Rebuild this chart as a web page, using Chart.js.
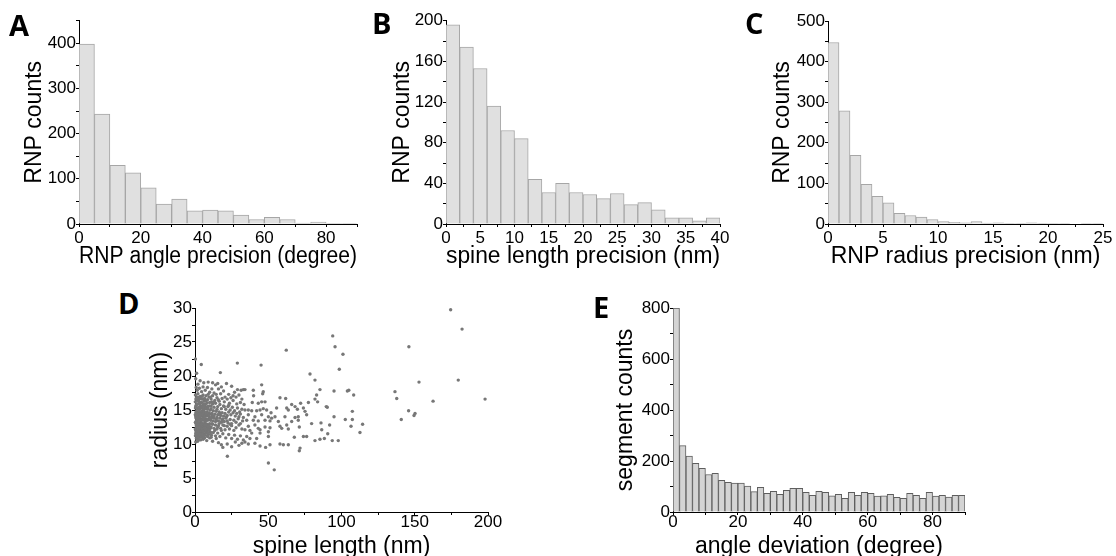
<!DOCTYPE html>
<html>
<head>
<meta charset="utf-8">
<script src="https://cdn.jsdelivr.net/npm/chart.js@4.4.1/dist/chart.umd.min.js"></script>
<style>
  html, body { margin: 0; padding: 0; background: #fff; }
  #fig { position: relative; width: 1116px; height: 556px; overflow: hidden; }
  #fig canvas { position: absolute; }
  .letter { position: absolute; font-family: "Open Sans", sans-serif; font-weight: 700; font-size: 29px; line-height: 29px; color: #000; }
</style>
</head>
<body>
<div id="fig">
  <canvas id="chartA" width="372" height="270" style="left:0px;top:0px"></canvas>
  <canvas id="chartB" width="370" height="270" style="left:370px;top:0px"></canvas>
  <canvas id="chartC" width="371" height="270" style="left:745px;top:0px"></canvas>
  <canvas id="chartD" width="370" height="290" style="left:140px;top:280px"></canvas>
  <canvas id="chartE" width="400" height="290" style="left:590px;top:280px"></canvas>
  <div class="letter" style="left:9px;top:10px">A</div>
  <div class="letter" style="left:372px;top:8px">B</div>
  <div class="letter" style="left:745px;top:8px">C</div>
  <div class="letter" style="left:118px;top:288px">D</div>
  <div class="letter" style="left:593px;top:292px">E</div>
</div>
<script>
// --- data ---
// A: RNP angle precision, 5 degree bins
const angleBinStart = [0, 5, 10, 15, 20, 25, 30, 35, 40, 45, 50, 55, 60, 65, 70, 75, 80, 85];
const angleCounts = [398, 243, 130, 113, 80, 44, 55, 29, 31, 29, 20, 10, 15, 10, 2, 4, 1, 1];

// B: spine length precision, 2 nm bins
const spineBinStart = [0, 2, 4, 6, 8, 10, 12, 14, 16, 18, 20, 22, 24, 26, 28, 30, 32, 34, 36, 38];
const spineCounts = [196, 174, 153, 116, 92, 84, 44, 31, 40, 31, 29, 25, 30, 19, 21, 14, 6, 6, 3, 6];

// C: RNP radius precision, 1 nm bins
const radiusBinStart = [0, 1, 2, 3, 4, 5, 6, 7, 8, 9, 10, 11, 12, 13, 14, 15, 16, 17, 18, 19, 20, 21, 22, 23, 24];
const radiusCounts = [447, 279, 169, 98, 68, 52, 26, 21, 17, 11, 6, 4, 3, 6, 2, 3, 1, 1, 3, 1, 1, 1, 0, 1, 1];

// E: angle deviation, 2 degree bins
const deviationBinStart = [0, 2, 4, 6, 8, 10, 12, 14, 16, 18, 20, 22, 24, 26, 28, 30, 32, 34, 36, 38, 40, 42, 44,
  46, 48, 50, 52, 54, 56, 58, 60, 62, 64, 66, 68, 70, 72, 74, 76, 78, 80, 82, 84, 86, 88];
const deviationCounts = [800, 260, 219, 191, 171, 147, 152, 124, 116, 113, 113, 102, 80, 97, 73, 81, 69, 85, 93, 93,
  77, 65, 81, 77, 63, 69, 54, 77, 65, 77, 73, 62, 63, 69, 58, 54, 73, 65, 54, 77, 62, 65, 59, 65, 65];

// D: [spine length (nm), radius (nm)]
const spineRadius = [
  // dense cluster near the axis
  [0.3,22.5],[4.3,21.7],[28.9,21.9],[17.3,20.5],[1.1,20.4],[22.1,8.2],
  [0.5,19.6],[2,18.8],[3.5,19.3],[6,19.0],[9,19.1],[12,19.0],[14,18.7],[15.5,18.9],[18,18.4],[21.5,18.9],
  [25,18.5],[27,17.6],[29,18.0],[31.5,17.9],[33,18.0],
  [0.8,18.3],[1.5,17.9],[3,18.2],[4.5,17.7],[5.5,18.4],[7,17.9],[8.5,18.3],[10,17.6],[11.5,18.1],[13,17.5],
  [16,18.1],[17.5,17.4],[19.5,17.8],[20.5,16.9],[23,17.3],[24.5,16.8],[26,17.1],[28,16.9],[30,17.2],[32,16.6],
  [0.3,17.2],[1,16.8],[2,17.4],[2.5,16.5],[3.5,17.0],[4.5,16.6],[5.5,17.2],[6.5,16.7],[7.5,17.1],[8.5,16.5],
  [9.5,16.9],[11,16.6],[12,17.1],[13.5,16.4],[15,16.8],[16.5,16.3],[18.5,16.7],[20,16.2],[22,16.6],[23.5,16.0],
  [26,16.4],[28.5,15.9],[31,16.1],[33.5,15.8],
  [0.2,16.2],[0.8,15.7],[1.5,16.4],[2,15.9],[3,16.2],[3.8,15.6],[4.5,16.1],[5.5,15.7],[6.3,16.3],[7,15.8],
  [8,16.0],[9,15.5],[10,16.1],[11,15.6],[12,15.9],[13,15.4],[14,16.0],[15.5,15.5],[17,15.8],[18,15.2],
  [19.5,15.6],[21,15.1],[22.5,15.5],[24,15.0],[25.5,15.4],[27,14.9],[29,15.3],[30.5,14.7],[32,15.1],
  [0.3,15.3],[1,14.8],[1.7,15.2],[2.3,14.6],[3,15.1],[3.7,14.7],[4.3,15.3],[5,14.6],[5.8,15.0],[6.5,14.5],
  [7.3,15.2],[8,14.7],[8.8,15.1],[9.6,14.6],[10.5,15.0],[11.5,14.5],[12.5,14.9],[13.5,14.4],[14.5,14.8],
  [15.5,14.3],[16.5,14.7],[17.5,14.2],[18.5,14.6],[19.5,14.1],[20.5,14.5],[22,14.2],[23,14.7],[24.5,14.3],
  [26,14.6],[27.5,14.1],[28.5,14.5],[30,14.0],[31,14.4],[33,13.9],
  [0.2,14.3],[0.8,13.8],[1.4,14.2],[2,13.6],[2.7,14.1],[3.3,13.7],[4,14.3],[4.7,13.6],[5.4,14.0],[6,13.5],
  [6.8,14.2],[7.5,13.7],[8.2,14.1],[9,13.6],[9.8,14.0],[10.6,13.5],[11.4,13.9],[12.2,13.4],[13,13.8],[14,13.3],
  [15,13.9],[16,13.4],[17,13.8],[18,13.2],[19,13.7],[20,13.3],[21,13.8],[22.5,13.1],[24,13.6],[25,13.0],
  [26.5,13.5],[28,13.2],[29.5,13.7],[31,13.0],[32.5,13.4],
  [0.3,13.2],[0.9,12.7],[1.5,13.3],[2.1,12.8],[2.8,13.1],[3.5,12.6],[4.2,13.2],[4.9,12.7],[5.6,13.0],[6.3,12.5],
  [7,13.1],[7.8,12.6],[8.5,12.9],[9.3,12.4],[10,13.0],[11,12.5],[12,12.9],[13,12.3],[14,12.8],[15,12.2],
  [16,12.7],[17.5,12.3],[19,12.8],[20.5,12.1],[22,12.6],[23.5,12.2],[25,12.7],[26.5,12.0],[28,12.4],[30,12.8],[32,12.2],
  [0.2,12.2],[0.8,11.7],[1.3,12.3],[1.9,11.8],[2.5,12.1],[3.2,11.6],[3.9,12.2],[4.6,11.7],[5.3,12.0],[6,11.5],
  [6.8,12.1],[7.6,11.6],[8.4,11.9],[9.2,11.4],[10.2,11.8],[11.2,11.3],[12.5,11.7],[14,11.2],[15.5,11.6],[17,11.1],
  [19,11.5],[21,10.9],[23,11.4],[25,10.8],[27,11.3],[29,10.7],[31,11.2],[33,10.6],
  [0.3,11.2],[1,10.8],[1.6,11.3],[2.3,10.7],[3,11.0],[3.8,10.6],[4.6,11.1],[5.5,10.7],[6.5,10.9],[8,10.5],
  [10,10.9],[12,10.4],[14.5,10.8],[16,10.2],[18,9.9],[19,9.5],[22,10.0],[25,9.6],[27.5,10.3],[30,9.8],[32,10.1],
  [0.5,10.3],[1.8,10.4],
  // extra points filling the densest core
  [0.6,16.6],[1.8,16.9],[3.2,16.7],[4.8,17.0],[6,16.5],[7.8,16.4],[9,17.3],[10.5,16.9],
  [0.5,15.5],[1.2,15.9],[2.5,15.4],[3.4,15.9],[4.9,15.5],[6,15.9],[6.8,15.4],[8.4,15.5],[9.8,15.6],[11.5,16.2],
  [0.6,14.6],[1.4,14.5],[2.6,15.0],[3.4,14.4],[4.6,14.8],[5.4,15.2],[6.2,14.8],[7.7,14.4],[9.2,14.3],[10.2,14.4],[11,15.2],
  [0.5,14.0],[1.1,13.5],[1.7,13.9],[2.4,14.4],[3,13.5],[3.7,14.0],[4.4,13.5],[5.1,14.3],[5.8,13.7],[6.5,14.0],
  [7.2,13.4],[8.6,13.5],[9.4,14.3],[10.3,13.7],[11.8,14.2],
  [0.6,13.0],[1.2,12.5],[1.8,13.0],[2.5,12.5],[3.1,12.9],[3.8,12.4],[4.5,12.9],[5.2,12.4],[6,12.9],[6.6,12.7],
  [7.4,12.8],[8.1,12.3],[8.9,12.7],[9.7,12.7],[10.5,12.3],[11.5,13.0],
  [0.5,12.0],[1.1,12.5],[1.6,11.9],[2.2,12.4],[2.9,11.8],[3.6,12.4],[4.3,11.9],[5,12.2],[5.7,11.8],[6.4,12.3],
  [7.2,11.9],[8,12.2],[8.8,11.6],[9.7,12.1],[10.7,11.7],
  [0.5,11.5],[1.3,11.1],[2,11.5],[2.7,11.3],[3.4,11.4],[4.2,11.0],[5,11.4],[5.9,11.1],[7,11.3],[8.5,11.1],[11,11.0],
  [13,14.1],[15,15.1],[17,14.5],[14.5,13.6],[16.5,13.0],[18.5,13.5],[20,12.7],[21.5,14.0],[13.5,12.0],[15.5,12.5],
  [18,12.0],[22,13.4],[24,12.9],[20,15.5],[23,15.7],[16,16.5],[12.5,16.1],[14.5,17.3],
  // 34-90 nm
  [62.3,23.8],[45.1,21.6],[78.5,20.3],[81.9,19.4],[34.1,18.0],[39.8,17.9],[45.5,18.7],[46.6,17.7],[46.2,17.4],
  [40,17.1],[58,16.8],[61.9,16.7],[85.3,18.0],[83,17.2],[81.9,16.6],[83.7,16.2],[39.1,16.1],[43.2,16.0],
  [45.5,16.2],[47.8,16.2],[77.4,16.1],[55.7,15.3],[62.6,15.3],[66,15.8],[68.3,15.5],[69.9,15.1],[72.1,16],
  [74,15.3],[34.1,15.0],[36.4,15.0],[38.7,14.9],[42.1,14.9],[44.4,15.0],[46.6,15.2],[48.9,15.0],[51.9,14.6],
  [54.6,14.0],[61.4,14.0],[63.7,15.0],[68.3,13.9],[70.5,14.0],[75.1,14.8],[76.2,14.3],[36.4,14.3],[40.9,14.0],
  [45.5,14.3],[50.1,14.0],[52.3,13.8],[35.3,13.5],[39.8,13.5],[43.2,13.4],[47.8,13.5],[51.2,13.4],[56.9,13.3],
  [58,12.6],[62.6,12.8],[66,13.3],[70.5,13.5],[71.2,12.5],[79.6,13.0],[86,13.1],[36.4,12.6],[40.9,12.8],
  [43.2,12.3],[47.8,12.5],[51.2,12.4],[34.1,12.1],[37.5,12.0],[38.7,11.6],[44.4,12.1],[44.4,11.6],[50.1,11.8],
  [59.2,12.3],[63.7,12.2],[86.5,12.1],[35.3,11.1],[37.5,10.8],[42.1,10.8],[50.1,11.1],[67.8,11.0],[74,11.1],
  [76.2,11.1],[81.9,10.5],[85.3,10.7],[88.3,10.8],[34.1,10.3],[36.4,10.0],[40.9,10.1],[44.4,9.7],[48.2,9.5],
  [51.2,9.9],[58,10.0],[60.3,9.9],[63.7,9.9],[71.7,9.4],[71.2,9.0],[50.1,7.2],[54.1,6.2],
  // beyond 90 nm
  [174.5,29.75],[182.3,26.9],[146,24.3],[94,25.9],[95.6,24.3],[101,23.2],[98.5,21.0],[179.7,19.4],[152.9,19.1],
  [105,17.9],[104,17.8],[108.3,17.2],[136.5,17.7],[137.7,16.7],[198,16.6],[162.5,16.3],[94.9,17.8],[145.8,14.9],
  [150.2,14.5],[149.5,14.2],[140.8,13.6],[107.4,14.8],[107.4,13.6],[106.5,12.6],[114.4,12.9],[112.6,11.7],
  [102.6,13.6],[94.9,14.0],[97.8,10.5],[93.7,10.5],[90.6,11.5],[91.9,12.8],[89.6,15.5],[90.3,15.4]
];

Chart.defaults.font.family = '"Liberation Sans", Arial, sans-serif';
Chart.defaults.color = '#000';
Chart.defaults.animation = false;
Chart.defaults.plugins.legend.display = false;
Chart.defaults.plugins.tooltip.enabled = false;

function bins(starts, counts, width) {
  return starts.map((s, i) => ({ x: s + width / 2, y: counts[i] }));
}

function labelEvery(n) {
  return v => (Math.abs(v / n - Math.round(v / n)) < 1e-6 ? v : '');
}

function xAxis(min, max, step, major, title, height, tickPad, titlePad) {
  return {
    type: 'linear', min: min, max: max, offset: false,
    afterFit: s => { s.height = height; },
    grid: { drawOnChartArea: false, offset: false, tickLength: 3, tickColor: '#000' },
    border: { color: '#000' },
    ticks: { stepSize: step, autoSkip: false, maxRotation: 0, padding: tickPad, font: { size: 17 }, callback: labelEvery(major) },
    title: { display: true, text: title, font: { size: 23 }, padding: { top: 0, bottom: titlePad } }
  };
}

function yAxis(max, step, major, title, width, titlePad) {
  return {
    type: 'linear', min: 0, max: max, position: 'left',
    afterFit: s => { s.width = width; },
    grid: { drawOnChartArea: false, tickLength: 3, tickColor: '#000' },
    border: { color: '#000' },
    ticks: { stepSize: step, autoSkip: false, padding: 0, font: { size: 17 }, callback: labelEvery(major) },
    title: { display: true, text: title, font: { size: 23 }, padding: { top: titlePad, bottom: 0 } }
  };
}

function histogram(id, data, fill, edge, padding, x, y) {
  return new Chart(document.getElementById(id), {
    type: 'bar',
    data: {
      datasets: [{
        data: data,
        backgroundColor: fill,
        borderColor: edge,
        borderWidth: 1,
        barPercentage: 1,
        categoryPercentage: 1
      }]
    },
    options: {
      responsive: false,
      devicePixelRatio: 1,
      layout: { padding: padding },
      scales: { x: x, y: y }
    }
  });
}

histogram('chartA', bins(angleBinStart, angleCounts, 5), '#e0e0e0', '#a6a6a6',
  { left: 0, top: 20.6, right: 15, bottom: 0 },
  xAxis(0, 90, 10, 20, 'RNP angle precision (degree)', 46, 1, 0),
  yAxis(450, 50, 100, 'RNP counts', 79, 21));

histogram('chartB', bins(spineBinStart, spineCounts, 2), '#e0e0e0', '#a6a6a6',
  { left: 0, top: 20.7, right: 20, bottom: 0 },
  xAxis(0, 40, 2.5, 5, 'spine length precision (nm)', 46, 1, 0),
  yAxis(200, 20, 40, 'RNP counts', 76, 19));

histogram('chartC', bins(radiusBinStart, radiusCounts, 1), '#e0e0e0', '#a6a6a6',
  { left: 0, top: 21, right: 13, bottom: 0 },
  xAxis(0, 25, 2.5, 5, 'RNP radius precision (nm)', 46, 1, 0),
  yAxis(500, 50, 100, 'RNP counts', 83, 24));

histogram('chartE', bins(deviationBinStart, deviationCounts, 2), '#d4d4d4', '#5e5e5e',
  { left: 0, top: 28, right: 25, bottom: 0 },
  xAxis(0, 90, 10, 20, 'angle deviation (degree)', 58, -3, 10),
  yAxis(800, 100, 200, 'segment counts', 83, 22));

new Chart(document.getElementById('chartD'), {
  type: 'scatter',
  data: {
    datasets: [{
      data: spineRadius.map(p => ({ x: p[0], y: p[1] })),
      pointRadius: 1.7,
      pointBorderWidth: 0,
      pointBackgroundColor: '#777777',
      clip: false
    }]
  },
  options: {
    responsive: false,
    devicePixelRatio: 1,
    layout: { padding: { left: 0, top: 28, right: 22, bottom: 0 } },
    scales: {
      x: xAxis(0, 200, 25, 50, 'spine length (nm)', 58, -3, 10),
      y: yAxis(30, 2.5, 5, 'radius (nm)', 55, 7)
    }
  }
});
</script>
</body>
</html>
